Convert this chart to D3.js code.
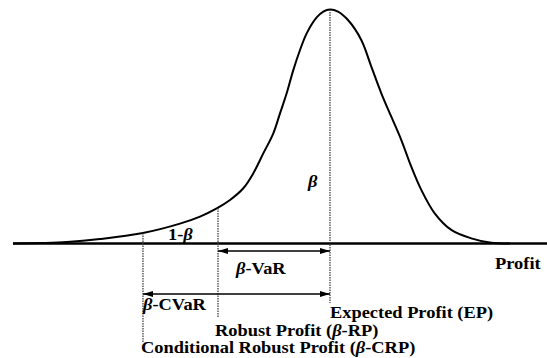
<!DOCTYPE html>
<html>
<head>
<meta charset="utf-8">
<script src="https://cdn.jsdelivr.net/npm/d3@7"></script>
<style>
  body { margin: 0; background: #fff; }
</style>
</head>
<body>
<svg id="chart" width="547" height="358"></svg>
<script>
// profit distribution (profit units 0-100, density 0-1)
let profit = [0, 5.06, 10.11, 16.29, 24.34, 31.27, 35.02, 38.15, 40.64, 43.13, 45.0, 46.87, 48.75, 50.0,
              51.25, 52.49, 53.75, 55.0, 56.87, 58.11, 59.36, 60.86, 62.73, 65.22, 67.10, 68.97, 70.84,
              72.72, 74.59, 76.46, 78.97, 82.08, 85.82, 89.57, 93.07];
let density = [0, 0.002, 0.006, 0.019, 0.045, 0.085, 0.115, 0.150, 0.186, 0.236, 0.300, 0.385, 0.471, 0.556,
               0.642, 0.741, 0.827, 0.898, 0.966, 0.991, 1, 0.991, 0.955, 0.870, 0.756, 0.642, 0.542,
               0.442, 0.328, 0.229, 0.129, 0.058, 0.022, 0.003, 0];

// key levels
let markers = ["CVaR", "VaR", "EP"];
let markerProfit = [24.34, 38.39, 59.36];
let markerDensity = [0.045, 0.152, 1];

let svg = d3.select("#chart");

let x = d3.scaleLinear().domain([0, 100]).range([13, 547]);
let y = d3.scaleLinear().domain([0, 1]).range([243.5, 9.5]);

// arrow heads
svg.append("defs").append("marker")
    .attr("id", "head")
    .attr("viewBox", "0 0 10 6")
    .attr("refX", 10).attr("refY", 3)
    .attr("markerWidth", 10).attr("markerHeight", 6)
    .attr("markerUnits", "userSpaceOnUse")
    .attr("orient", "auto-start-reverse")
    .append("path")
    .attr("d", "M0,0 L10,3 L0,6 Z")
    .attr("fill", "#000");

// horizontal profit axis
svg.append("line")
    .attr("x1", x(0)).attr("x2", x(100))
    .attr("y1", y(0)).attr("y2", y(0))
    .attr("stroke", "#000")
    .attr("stroke-width", 2.6);

// density curve
let line = d3.line()
    .x((d, i) => x(profit[i]))
    .y(d => y(d))
    .curve(d3.curveCatmullRom.alpha(0.5));

svg.append("path")
    .datum(density)
    .attr("d", line)
    .attr("fill", "none")
    .attr("stroke", "#000")
    .attr("stroke-width", 2);

// dotted verticals, bottom end in pixels
let dropTo = [343, 318, 303];
svg.append("g")
    .selectAll("line")
    .data(markers)
    .join("line")
    .attr("x1", (d, i) => x(markerProfit[i]))
    .attr("x2", (d, i) => x(markerProfit[i]))
    .attr("y1", (d, i) => y(markerDensity[i]))
    .attr("y2", (d, i) => dropTo[i])
    .attr("stroke", "#333")
    .attr("stroke-width", 1.2)
    .attr("stroke-dasharray", "1.5,1");

// double arrows
let arrows = [
    {from: 1, to: 2, yy: 251},
    {from: 0, to: 2, yy: 294}
];
svg.append("g")
    .selectAll("line")
    .data(arrows)
    .join("line")
    .attr("x1", d => x(markerProfit[d.from]))
    .attr("x2", d => x(markerProfit[d.to]))
    .attr("y1", d => d.yy)
    .attr("y2", d => d.yy)
    .attr("stroke", "#000")
    .attr("stroke-width", 1.6)
    .attr("marker-start", "url(#head)")
    .attr("marker-end", "url(#head)");

// labels: [pre, beta?, post, x, y]
let labels = [
    ["1-", true, "", 168, 240],
    ["", true, "", 308, 187],
    ["", true, "-VaR", 236, 274],
    ["", true, "-CVaR", 143, 310],
    ["Profit", false, "", 495, 269],
    ["Expected Profit (EP)", false, "", 330, 318],
    ["Robust Profit (", true, "-RP)", 215, 336],
    ["Conditional Robust Profit (", true, "-CRP)", 141, 353]
];

let t = svg.append("g")
    .attr("font-family", "'Times New Roman', 'Liberation Serif', serif")
    .attr("font-weight", "bold")
    .attr("font-size", 16)
    .attr("fill", "#000")
    .selectAll("text")
    .data(labels)
    .join("text")
    .attr("transform", d => `translate(${d[3]},${d[4]}) scale(1.15,1)`);

t.each(function(d) {
    let el = d3.select(this);
    if (d[0]) el.append("tspan").text(d[0]);
    if (d[1]) el.append("tspan").attr("font-style", "italic").text("β");
    if (d[2]) el.append("tspan").text(d[2]);
});
</script>
</body>
</html>
